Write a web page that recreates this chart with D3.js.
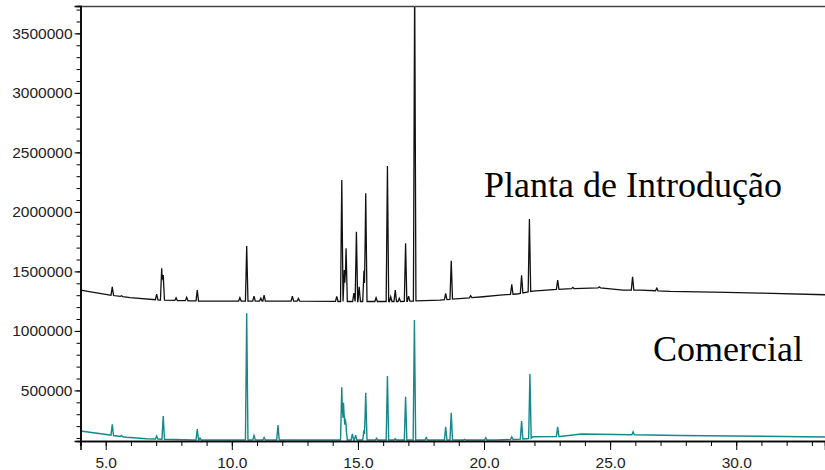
<!DOCTYPE html>
<html>
<head>
<meta charset="utf-8">
<script src="https://cdn.jsdelivr.net/npm/d3@7"></script>
<style>
  body { margin: 0; background: #fff; }
  svg { display: block; }
</style>
</head>
<body>
<svg id="chart"></svg>
<script>
const width = 825;
const height = 470;

// retention time (min) and abundance
const xTicksMajor = [5, 10, 15, 20, 25, 30];
const yTicksMajor = [500000, 1000000, 1500000, 2000000, 2500000, 3000000, 3500000];

// Planta de Introdução: baseline knots [time, abundance]
const plantaBase = [
  [4.0, 1343000], [5.17, 1301000], [5.96, 1280000], [7.15, 1259000], [8.74, 1251000],
  [12.70, 1251000], [14.29, 1247000], [16.67, 1247000], [18.25, 1259000], [19.96, 1287000],
  [20.63, 1301000], [21.30, 1310000], [21.94, 1335000], [23.28, 1354000], [24.60, 1362000],
  [25.51, 1343000], [26.19, 1343000], [27.37, 1332000], [29.62, 1324000], [30.94, 1318000],
  [33.52, 1304000]
];
// Planta de Introdução: peaks [time, apex abundance]
const plantaPeaks = [
  [5.26, 1371000], [5.63, 1296000], [7.02, 1310000], [7.22, 1526000], [7.28, 1469000],
  [7.79, 1279000], [8.21, 1282000], [8.63, 1343000], [10.32, 1279000], [10.59, 1713000],
  [10.88, 1293000], [11.15, 1276000], [11.28, 1301000], [12.40, 1293000], [12.64, 1272000],
  [14.16, 1290000], [14.36, 2267000], [14.46, 1511000], [14.53, 1694000], [14.84, 1318000],
  [14.94, 1833000], [15.05, 1371000], [15.24, 1505000], [15.31, 2156000], [15.72, 1279000],
  [16.17, 2385000], [16.30, 1287000], [16.48, 1343000], [16.64, 1274000], [16.89, 1736000],
  [17.01, 1293000], [17.25, 3950000], [18.48, 1316000], [18.70, 1590000], [19.47, 1296000],
  [21.10, 1391000], [21.49, 1467000], [21.80, 1940000], [22.92, 1427000], [23.52, 1366000],
  [24.57, 1371000], [25.89, 1455000], [26.85, 1358000]
];

// Comercial: baseline knots
const comercialBase = [
  [4.0, 159000], [5.17, 125000], [5.83, 106000], [6.62, 94000], [8.46, 83000],
  [12.70, 83000], [18.25, 83000], [20.50, 83000], [21.30, 89000], [21.69, 94000],
  [21.86, 96000], [21.94, 111000], [23.01, 113000], [23.87, 134000], [25.91, 128000],
  [27.77, 121000], [29.87, 117000], [33.52, 109000]
];
// Comercial: peaks
const comercialPeaks = [
  [5.26, 215000], [5.63, 120000], [7.02, 117000], [7.28, 285000], [8.63, 176000],
  [8.74, 100000], [10.59, 1148000], [10.88, 120000], [11.28, 104000], [11.83, 209000],
  [14.36, 526000], [14.43, 397000], [14.49, 243000], [14.53, 182000], [14.78, 134000],
  [14.91, 125000], [15.24, 167000], [15.31, 481000], [15.74, 98000], [16.17, 621000],
  [16.48, 94000], [16.89, 447000], [17.24, 1091000], [17.71, 104000], [18.48, 195000],
  [18.70, 313000], [19.23, 90000], [20.07, 103000], [21.10, 109000], [21.49, 243000],
  [21.82, 638000], [22.92, 193000], [25.91, 153000]
];

const margin = { left: 80.5, right: 0, top: 6, bottom: 29 };
const sans = "'Liberation Sans', Arial, sans-serif";
const serif = "'Liberation Serif', 'Times New Roman', serif";

const x = d3.scaleLinear().domain([4, 33.52]).range([margin.left, width - margin.right]);
const y = d3.scaleLinear().domain([75000, 3730000]).range([height - margin.bottom, margin.top]);

const svg = d3.select("#chart")
  .attr("width", width)
  .attr("height", height);

svg.append("defs").append("clipPath")
  .attr("id", "plot")
  .append("rect")
  .attr("x", margin.left)
  .attr("y", margin.top)
  .attr("width", width - margin.left - margin.right)
  .attr("height", height - margin.top - margin.bottom);

// build a trace: baseline plus narrow triangular peaks
function trace(base, peaks, w) {
  const baseAt = t => {
    const i = d3.bisector(d => d[0]).right(base, t);
    if (i <= 0) return base[0][1];
    if (i >= base.length) return base[base.length - 1][1];
    const a = base[i - 1], b = base[i];
    return a[1] + (b[1] - a[1]) * (t - a[0]) / (b[0] - a[0]);
  };
  const ts = new Set(base.map(d => d[0]));
  peaks.forEach(p => { ts.add(p[0] - w); ts.add(p[0]); ts.add(p[0] + w); });
  return Array.from(ts).sort((a, b) => a - b).map(t => {
    let v = baseAt(t);
    peaks.forEach(p => {
      const h = p[1] - baseAt(p[0]);
      const k = 1 - Math.abs(t - p[0]) / w;
      if (k > 0) v += h * k;
    });
    return [t, v];
  });
}

const line = d3.line().x(d => x(d[0])).y(d => y(d[1]));

const g = svg.append("g").attr("clip-path", "url(#plot)");

g.append("path")
  .datum(trace(comercialBase, comercialPeaks, 0.05))
  .attr("d", line)
  .attr("fill", "none")
  .attr("stroke", "#12898a")
  .attr("stroke-width", 1.4);

g.append("path")
  .datum(trace(plantaBase, plantaPeaks, 0.05))
  .attr("d", line)
  .attr("fill", "none")
  .attr("stroke", "#111")
  .attr("stroke-width", 1.3);

// top frame line
svg.append("line")
  .attr("x1", margin.left).attr("x2", width)
  .attr("y1", margin.top + 0.5).attr("y2", margin.top + 0.5)
  .attr("stroke", "#444")
  .attr("stroke-width", 1.5);

// x axis: minor ticks every minute, longer ticks with labels every 5
const xAxisG = svg.append("g").attr("transform", `translate(0,${height - margin.bottom})`);
xAxisG.call(d3.axisBottom(x).tickValues(d3.range(4, 34, 1)).tickSize(5).tickFormat(""));
xAxisG.append("g")
  .call(d3.axisBottom(x).tickValues(xTicksMajor).tickSize(9).tickFormat(d3.format(".1f")));
xAxisG.selectAll(".domain").attr("stroke-width", 1.5);
xAxisG.selectAll("text")
  .attr("y", 16)
  .attr("font-family", sans)
  .attr("font-size", 15.5)
  .attr("fill", "#222");

// y axis
const yAxisG = svg.append("g").attr("transform", `translate(${margin.left},0)`);
yAxisG.call(d3.axisLeft(y).tickValues(d3.range(100000, 3750000, 100000)).tickSize(4).tickFormat(""));
yAxisG.append("g")
  .call(d3.axisLeft(y).tickValues(yTicksMajor).tickSize(6).tickFormat(d3.format("d")));
yAxisG.selectAll(".domain").attr("stroke-width", 1.5);
yAxisG.selectAll("text")
  .attr("x", -8)
  .attr("font-family", sans)
  .attr("font-size", 15.5)
  .attr("fill", "#222");

// series labels
svg.append("text")
  .attr("x", 484).attr("y", 197)
  .attr("font-family", serif)
  .attr("font-size", 36)
  .text("Planta de Introdução");

svg.append("text")
  .attr("x", 653).attr("y", 361)
  .attr("font-family", serif)
  .attr("font-size", 36)
  .text("Comercial");
</script>
</body>
</html>
